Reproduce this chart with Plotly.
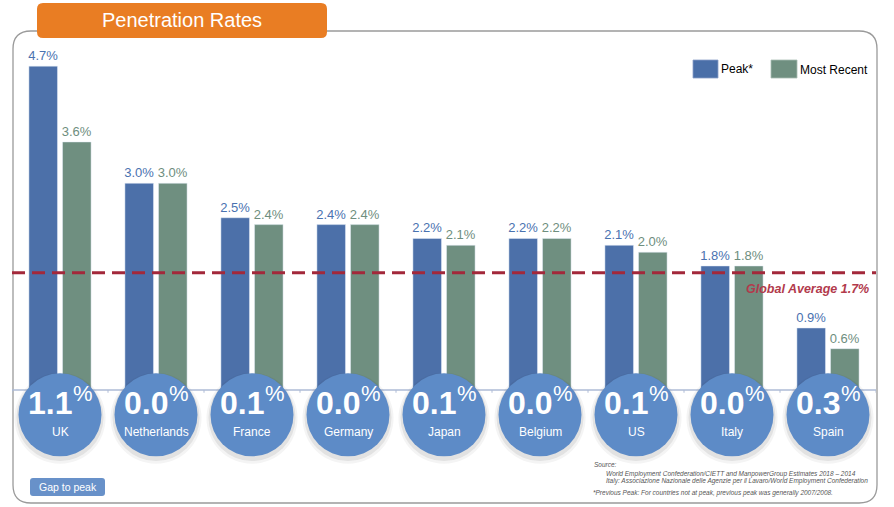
import plotly.graph_objects as go

# data
countries = ["UK", "Netherlands", "France", "Germany", "Japan", "Belgium", "US", "Italy", "Spain"]
peak = [4.7, 3.0, 2.5, 2.4, 2.2, 2.2, 2.1, 1.8, 0.9]
most_recent = [3.6, 3.0, 2.4, 2.4, 2.1, 2.2, 2.0, 1.8, 0.6]
gap_to_peak = [1.1, 0.0, 0.1, 0.0, 0.1, 0.0, 0.1, 0.0, 0.3]
global_average = 1.7

source_lines = [
    "Source:",
    "World Employment Confederation/CIETT and ManpowerGroup Estimates 2018 \u2013 2014",
    "Italy: Associazione Nazionale delle Agenzie per il Lavaro/World Employment Confederation",
    "*Previous Peak: For countries not at peak, previous peak was generally 2007/2008.",
]

# page geometry (pixels)
W, H = 894, 507
L, R, T, B = 12, 18, 31, 4
PW, PH = W - L - R, H - T - B
Y_RANGE = [-1.64, 5.21]
CIRCLE_Y = -0.36

FONT = "Arial, Liberation Sans, sans-serif"
PEAK_C = "#4c70a9"
RECENT_C = "#6f8f80"
PEAK_TXT = "#4a72b0"
RECENT_TXT = "#6e8e7e"
CIRCLE_C = "#5d8bc7"
RED = "#a3283a"


def px(x):
    return (x - L) / PW


def py(y):
    return (H - B - y) / PH


def rounded_rect(x0, y0, x1, y1, r):
    X0, X1, Y0, Y1 = px(x0), px(x1), py(y0), py(y1)
    rx, ry = r / PW, r / PH
    return (f"M{X0+rx},{Y0} L{X1-rx},{Y0} Q{X1},{Y0} {X1},{Y0-ry} "
            f"L{X1},{Y1+ry} Q{X1},{Y1} {X1-rx},{Y1} "
            f"L{X0+rx},{Y1} Q{X0},{Y1} {X0},{Y1+ry} "
            f"L{X0},{Y0-ry} Q{X0},{Y0} {X0+rx},{Y0} Z")


def note(x, y, text, size, color, xanchor="center", **kw):
    font = dict(size=size, color=color)
    font.update(kw.pop("font", {}))
    return dict(xref="paper", yref="paper", x=px(x), y=py(y), xanchor=xanchor,
                yanchor="middle", text=text, showarrow=False, font=font, **kw)


fig = go.Figure()

fig.add_trace(go.Bar(x=countries, y=peak, name="Peak*", marker_color=PEAK_C,
                     texttemplate="%{y:.1f}%", textposition="outside", constraintext="none",
                     textfont=dict(color=PEAK_TXT, size=13), cliponaxis=False))
fig.add_trace(go.Bar(x=countries, y=most_recent, name="Most Recent", marker_color=RECENT_C,
                     texttemplate="%{y:.1f}%", textposition="outside", constraintext="none",
                     textfont=dict(color=RECENT_TXT, size=13), cliponaxis=False))

# circle shadows + circles
for size, alpha, dy in [(91, 0.05, -0.05), (87, 0.09, -0.04)]:
    fig.add_trace(go.Scatter(x=countries, y=[CIRCLE_Y + dy] * len(countries), mode="markers",
                             marker=dict(size=size, color=f"rgba(40,40,40,{alpha})", line_width=0),
                             hoverinfo="skip", cliponaxis=False))
fig.add_trace(go.Scatter(x=countries, y=[CIRCLE_Y] * len(countries), mode="markers",
                         marker=dict(size=83, color=CIRCLE_C, line_width=0),
                         hoverinfo="skip", cliponaxis=False))

annotations = []
for c, g in zip(countries, gap_to_peak):
    annotations.append(dict(x=c, y=CIRCLE_Y, xshift=-10, yshift=12, xanchor="center",
                            yanchor="middle", text=f"{g:.1f}", showarrow=False,
                            font=dict(size=32, color="white", weight="bold")))
    annotations.append(dict(x=c, y=CIRCLE_Y, xshift=23, yshift=21, xanchor="center",
                            yanchor="middle", text="%", showarrow=False,
                            font=dict(size=22, color="white")))
    annotations.append(dict(x=c, y=CIRCLE_Y, yshift=-17, xanchor="center", yanchor="middle",
                            text=c, showarrow=False, font=dict(size=12, color="white")))

annotations += [
    dict(xref="paper", x=px(871), xanchor="right", y=global_average, yshift=-16,
         yanchor="middle", text=f"Global Average {global_average}%", showarrow=False,
         font=dict(size=12.5, color="#b23a4c", weight="bold", style="italic")),
    note(182, 20, "Penetration Rates", 20, "white"),
    note(719, 69, "Peak*", 12, "black", xanchor="left"),
    note(798, 70, "Most Recent", 12, "black", xanchor="left"),
    note(67.5, 487, "Gap to peak", 10.5, "white"),
]
src_pos = [(592, 464), (604, 474), (604, 481), (591, 493)]
for txt, (sx, sy) in zip(source_lines, src_pos):
    annotations.append(note(sx, sy, txt, 6.5, "#555555", xanchor="left",
                            font=dict(style="italic")))

shapes = [
    dict(type="path", xref="paper", yref="paper", path=rounded_rect(13, 31, 877, 503, 18),
         line=dict(color="#9a9a9a", width=1.3), layer="below"),
    dict(type="line", xref="paper", x0=0, x1=1, y0=0, y1=0,
         line=dict(color="#aebbd6", width=1.5), layer="below"),
    dict(type="line", xref="paper", x0=0, x1=1, y0=global_average, y1=global_average,
         line=dict(color=RED, width=3, dash="13px,7px"), layer="above"),
    dict(type="path", xref="paper", yref="paper", path=rounded_rect(37, 3, 327, 38, 6),
         fillcolor="#e97d23", line=dict(width=0), layer="above"),
    dict(type="rect", xref="paper", yref="paper", x0=px(693), x1=px(718), y0=py(78), y1=py(60),
         fillcolor="#4a6fa8", line=dict(color="#8aa0c8", width=0.8)),
    dict(type="rect", xref="paper", yref="paper", x0=px(771), x1=px(797), y0=py(78), y1=py(60),
         fillcolor=RECENT_C, line=dict(color="#a8bcb2", width=0.8)),
    dict(type="path", xref="paper", yref="paper", path=rounded_rect(30, 478, 105, 496, 3),
         fillcolor="#6891c9", line=dict(width=0)),
]
for k in range(len(countries) + 1):
    shapes.append(dict(type="line", x0=k - 0.5, x1=k - 0.5, y0=0, y1=-0.04,
                       line=dict(color="#aebbd6", width=1), layer="below"))

fig.update_layout(
    width=W, height=H,
    margin=dict(l=L, r=R, t=T, b=B),
    paper_bgcolor="white", plot_bgcolor="white",
    font=dict(family=FONT),
    barmode="group", bargap=0.30, bargroupgap=0.15,
    showlegend=False,
    xaxis=dict(range=[-0.5, len(countries) - 0.5], showticklabels=False, showgrid=False,
               zeroline=False, showline=False),
    yaxis=dict(range=Y_RANGE, showticklabels=False, showgrid=False, zeroline=False,
               showline=False),
    annotations=annotations,
    shapes=shapes,
)

fig.write_html("out.html", config={"displayModeBar": False},
               post_script="document.body.style.margin='0px';")
